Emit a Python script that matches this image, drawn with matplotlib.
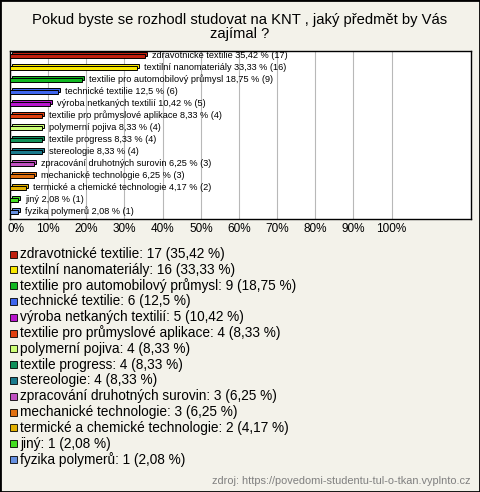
import matplotlib
matplotlib.use('Agg')
import matplotlib.pyplot as plt
from matplotlib.patches import Rectangle
from matplotlib.transforms import ScaledTranslation

plt.rcParams['font.family'] = ['Liberation Sans', 'DejaVu Sans']

title = 'Pokud byste se rozhodl studovat na KNT , jaký předmět by Vás\nzajímal ?'
categories = ['zdravotnické textilie', 'textilní nanomateriály', 'textilie pro automobilový průmysl',
              'technické textilie', 'výroba netkaných textilií', 'textilie pro průmyslové aplikace',
              'polymerní pojiva', 'textile progress', 'stereologie',
              'zpracování druhotných surovin', 'mechanické technologie',
              'termické a chemické technologie', 'jiný', 'fyzika polymerů']
counts = [17, 16, 9, 6, 5, 4, 4, 4, 4, 3, 3, 2, 1, 1]
total = 48
colors = ['#c0200f', '#f8e800', '#11b822', '#3f66ee', '#b815cc', '#e0400f', '#ccff77',
          '#10905a', '#1a7a8c', '#c050c0', '#e07010', '#e2b000', '#44dd22', '#6690e0']
xticks = [0, 10, 20, 30, 40, 50, 60, 70, 80, 90, 100]
source = 'zdroj: https://povedomi-studentu-tul-o-tkan.vyplnto.cz'
BG = '#f3f2ea'


def fmt(p):
    s = f'{p:.2f}'.rstrip('0').rstrip('.')
    return s.replace('.', ',')


pcts = [c / total * 100 for c in counts]

W, H = 480, 492
fig = plt.figure(figsize=(W / 100, H / 100), dpi=100, facecolor=BG)
ax = fig.add_axes([10 / W, 1 - 219 / H, 461 / W, 168 / H])
ax.set_facecolor('white')

ys = list(range(len(categories)))
# shadow bar behind, shifted up/right to fake the 3D look
shift = ax.transData + ScaledTranslation(2 / 100, 2 / 100, fig.dpi_scale_trans)
ax.barh(ys, pcts, height=0.4, color=colors, edgecolor='black', linewidth=0.7,
        transform=shift, zorder=3)
ax.barh(ys, pcts, height=0.4, color=colors, edgecolor='black', linewidth=0.7, zorder=4)

for y, cat, p, c in zip(ys, categories, pcts, counts):
    ax.annotate(f'{cat} {fmt(p)} % ({c})', (p, y), xytext=(7, 1), textcoords='offset pixels',
                va='center', ha='left', fontsize=6.6, zorder=5)

ax.set_xlim(0, 120.8)
ax.set_ylim(len(categories) - 0.42, -0.42)
ax.set_yticks([])
ax.set_xticks(xticks)
ax.set_xticklabels([f'{t}%' for t in xticks], fontsize=8.5)
ax.tick_params(axis='x', length=0, pad=3)
first = ax.get_xticklabels()[0]
first.set_transform(first.get_transform() + ScaledTranslation(6 / 100, 0, fig.dpi_scale_trans))
ax.grid(axis='x', color='#b8b8b8', linewidth=0.8, zorder=0)
for sp in ax.spines.values():
    sp.set_linewidth(1)

fig.suptitle(title, x=0.5, y=1 - 13 / H, fontsize=10.6, va='top', linespacing=1.0)

# legend
for i, (cat, p, c, col) in enumerate(zip(categories, pcts, counts, colors)):
    yc = 254 + 15.8 * i
    fig.patches.append(Rectangle((10 / W, 1 - (yc + 3.5) / H), 7 / W, 7 / H, facecolor=col,
                                 edgecolor='black', linewidth=0.6, transform=fig.transFigure))
    fig.text(20 / W, 1 - yc / H, f'{cat}: {c} ({fmt(p)} %)', fontsize=9.8, va='center')

fig.text(470 / W, 1 - 481 / H, source, fontsize=7.9, color='#808080', ha='right', va='center')
fig.patches.append(Rectangle((0, 0), 1, 1, fill=False, edgecolor='black', linewidth=2,
                             transform=fig.transFigure))

fig.savefig('out.png', dpi=100, facecolor=BG)
